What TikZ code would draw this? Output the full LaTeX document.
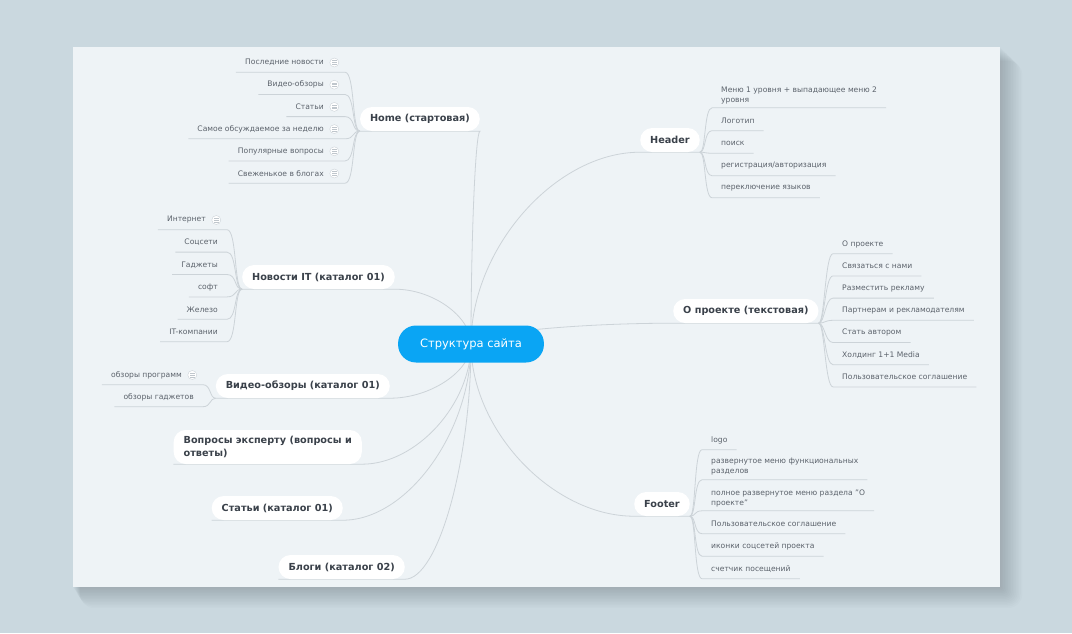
\documentclass[tikz,border=0pt]{standalone}
\usepackage{fontspec}
\setmainfont{DejaVu Sans}
\usepackage{tikz}
\usetikzlibrary{positioning, calc, backgrounds}

\definecolor{pagebg}{HTML}{CAD8DF}
\definecolor{panelbg}{HTML}{EEF3F6}
\definecolor{linegray}{HTML}{CCD3D8}
\definecolor{icongray}{HTML}{BFC6CC}
\definecolor{leaftext}{HTML}{5B626B}
\definecolor{topictext}{HTML}{3A414A}
\definecolor{rootblue}{HTML}{0AA5F4}

\begin{document}
\begin{tikzpicture}[
    x=1pt, y=-1pt,
    root/.style={fill=rootblue, text=white, rounded corners=18pt, minimum height=37pt, inner xsep=22pt, font=\fontsize{11.5}{14}\selectfont},
    topic/.style={fill=white, text=topictext, rounded corners=12pt, minimum height=24pt, inner xsep=10pt, align=left, font=\bfseries\fontsize{9.7}{13}\selectfont},
    leaf/.style={text=leaftext, minimum height=19pt, inner xsep=9pt, inner ysep=4pt, font=\fontsize{7.6}{10}\selectfont},
    leafL/.style={leaf, anchor=east, align=right},
    leafR/.style={leaf, anchor=west, align=left},
    note/.style={circle, draw=linegray, fill=white, minimum size=9pt, inner sep=0pt,
        path picture={\foreach \dy in {-1.8,0,1.8} \draw[icongray, line width=0.6pt] ([xshift=-2.3pt, yshift=\dy pt]path picture bounding box.center) -- ++(4.6pt,0pt);}},
    branch/.style={draw=linegray, line width=0.8pt}
]
% Page and panel
\begin{scope}[on background layer]
\fill[pagebg, use as bounding box] (0,0) rectangle (1072,633);
\foreach \k in {1,...,14}
    \fill[black, opacity=0.013, rounded corners=\k pt] (73+0.5*\k, 47+1.0*\k) rectangle (1000+1.6*\k, 587+1.5*\k);
\fill[panelbg] (73,47) rectangle (1000,587);
\end{scope}

% Central topic
\node[root] (root) at (471,344) {Структура сайта};

% Main topics, left
\node[topic, anchor=east] (home) at (480,119) {Home (стартовая)};
\node[topic, anchor=east] (news) at (395,277) {Новости IT (каталог 01)};
\node[topic, anchor=east] (video) at (390,386) {Видео-обзоры (каталог 01)};
\node[topic, anchor=east, minimum height=34pt] (experts) at (362,447) {Вопросы эксперту (вопросы и\\ответы)};
\node[topic, anchor=east] (articles) at (343,508) {Статьи (каталог 01)};
\node[topic, anchor=east] (blogs) at (405,567) {Блоги (каталог 02)};

% Main topics, right
\node[topic, anchor=west] (header) at (640,140) {Header};
\node[topic, anchor=west] (about) at (673,311) {О проекте (текстовая)};
\node[topic, anchor=west] (footer) at (634,504) {Footer};

% Subtopics
\foreach \t [count=\i] in {Последние новости, Видео-обзоры, Статьи, Самое обсуждаемое за неделю, Популярные вопросы, Свеженькое в блогах} {
    \node[leafL] (h\i) at (345, 40.3+22.2*\i) {\t\hspace*{12pt}};
    \node[note, left=6pt of h\i.east] {};
}
\foreach \t [count=\i] in {Интернет\hspace*{12pt}, Соцсети, Гаджеты, софт, Железо, IT-компании}
    \node[leafL] (n\i) at (227, 197.6+22.4*\i) {\t};
\node[note, left=6pt of n1.east] {};
\node[leafL] (v1) at (203,375) {обзоры программ\hspace*{12pt}};
\node[leafL] (v2) at (203,397) {обзоры гаджетов};
\node[note, left=6pt of v1.east] {};

\foreach \y/\t [count=\i] in {95/{Меню 1 уровня + выпадающее меню 2\\уровня}, 121/Логотип, 143.5/поиск, 166/{регистрация/авторизация}, 188/переключение языков}
    \node[leafR] (r\i) at (712,\y) {\t};
\foreach \t [count=\i] in {О проекте, Связаться с нами, Разместить рекламу, Партнерам и рекламодателям, Стать автором, Холдинг 1+1 Media, Пользовательское соглашение}
    \node[leafR] (a\i) at (833, 221.8+22.2*\i) {\t};
\foreach \y/\t [count=\i] in {440/logo, 467/{развернутое меню функциональных\\разделов}, 498/{полное развернутое меню раздела "О\\проекте"}, 524/Пользовательское соглашение, 546.5/иконки соцсетей проекта, 569/счетчик посещений}
    \node[leafR] (f\i) at (702,\y) {\t};

% Connections
\begin{scope}[on background layer]
\foreach \t in {home, news, video, experts, articles, blogs}
    \draw[branch] (root.center) .. controls ($(root.center)!0.5!(root.center |- \t.south east)$) and ($(\t.south east)!0.5!(root.center |- \t.south east)$) .. (\t.south east) -- (\t.south west);
\foreach \t in {header, about, footer}
    \draw[branch] (root.center) .. controls ($(root.center)!0.5!(root.center |- \t.south west)$) and ($(\t.south west)!0.5!(root.center |- \t.south west)$) .. (\t.south west) -- (\t.south east);

\foreach \i in {1,...,6}
    \draw[branch] (home.south west) .. controls +(-8,0) and +(10,0) .. (h\i.south east) -- (h\i.south west);
\foreach \i in {1,...,6}
    \draw[branch] (news.south west) .. controls +(-8,0) and +(10,0) .. (n\i.south east) -- (n\i.south west);
\foreach \i in {1,2}
    \draw[branch] (video.south west) .. controls +(-6,0) and +(8,0) .. (v\i.south east) -- (v\i.south west);
\foreach \i in {1,...,5}
    \draw[branch] (header.south east) .. controls +(6,0) and +(-8,0) .. (r\i.south west) -- (r\i.south east);
\foreach \i in {1,...,7}
    \draw[branch] (about.south east) .. controls +(6,0) and +(-8,0) .. (a\i.south west) -- (a\i.south east);
\foreach \i in {1,...,6}
    \draw[branch] (footer.south east) .. controls +(6,0) and +(-8,0) .. (f\i.south west) -- (f\i.south east);
\end{scope}

\end{tikzpicture}
\end{document}
